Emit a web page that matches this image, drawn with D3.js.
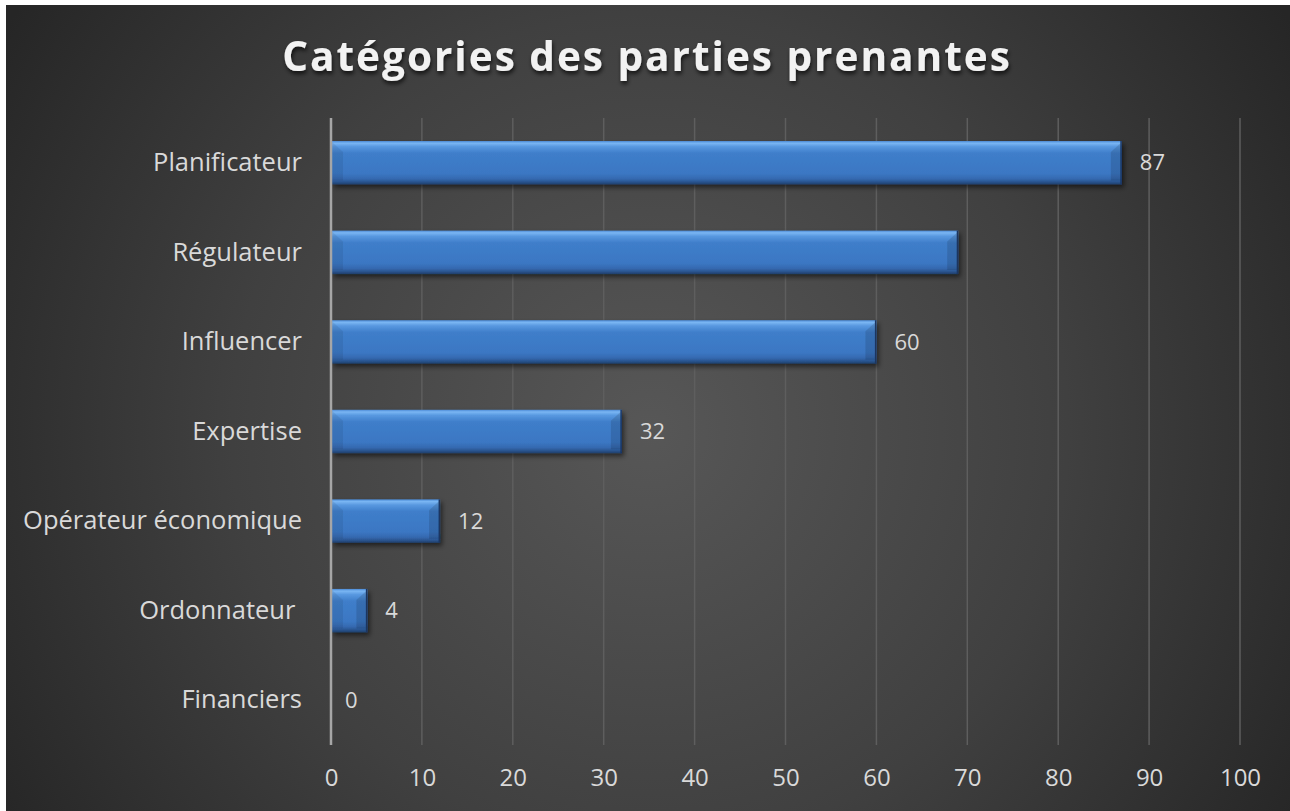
<!DOCTYPE html>
<html><head><meta charset="utf-8">
<script src="https://cdn.jsdelivr.net/npm/d3@7"></script>
<style>
html,body{margin:0;padding:0;background:#fff;}
svg{display:block;}
</style></head>
<body>
<script>
const categories = ["Planificateur","Régulateur","Influencer","Expertise","Opérateur économique","Ordonnateur ","Financiers"];
const values = [87, 69, 60, 32, 12, 4, 0];
const labels = ["87", null, "60", "32", "12", "4", "0"];
const ticks = [0,10,20,30,40,50,60,70,80,90,100];
const title = "Catégories des parties prenantes";

const W = 1290, H = 811;
const svg = d3.select("body").append("svg").attr("width", W).attr("height", H);
const defs = svg.append("defs");

const bg = defs.append("radialGradient").attr("id","bg").attr("gradientUnits","userSpaceOnUse")
  .attr("cx",650).attr("cy",430).attr("r",760);
bg.append("stop").attr("offset","0").attr("stop-color","#575757");
bg.append("stop").attr("offset","0.55").attr("stop-color","#404040");
bg.append("stop").attr("offset","1").attr("stop-color","#262626");

const bar = defs.append("linearGradient").attr("id","bar").attr("x1",0).attr("y1",0).attr("x2",0).attr("y2",1);
[["0","#4b8ad6"],["0.05","#7ab6f3"],["0.13","#5898e0"],["0.28","#3f7eca"],["0.75","#3b77c3"],["0.87","#3569b0"],["0.94","#2a5590"],["1","#1f3f6b"]]
  .forEach(([o,c])=>bar.append("stop").attr("offset",o).attr("stop-color",c));

const sh = defs.append("filter").attr("id","sh").attr("x","-10%").attr("y","-20%").attr("width","130%").attr("height","160%");
sh.append("feDropShadow").attr("dx",2).attr("dy",3).attr("stdDeviation",2.5).attr("flood-color","#000").attr("flood-opacity",0.55);

const tsh = defs.append("filter").attr("id","tsh").attr("x","-5%").attr("y","-30%").attr("width","110%").attr("height","160%");
tsh.append("feDropShadow").attr("dx",1).attr("dy",3).attr("stdDeviation",2).attr("flood-color","#000").attr("flood-opacity",0.7);

svg.append("rect").attr("x",6).attr("y",5).attr("width",W-6).attr("height",H-5).attr("fill","url(#bg)");

const x = d3.scaleLinear().domain([0,100]).range([331,1240]);
const y = d3.scaleBand().domain(categories).range([118,745]).paddingInner(0.515).paddingOuter(0.257);

// gridlines
svg.append("g").selectAll("line").data(ticks.filter(t=>t>0)).join("line")
  .attr("x1",d=>x(d)).attr("x2",d=>x(d)).attr("y1",118).attr("y2",745)
  .attr("stroke","#5e5e5e").attr("stroke-width",1.5);

// x tick labels
const xAxis = d3.axisBottom(x).tickValues(ticks).tickSize(0).tickPadding(0);
const gx = svg.append("g").attr("transform","translate(0,778)").call(xAxis);
gx.select(".domain").remove();
gx.selectAll("text").attr("fill","#d9d9d9").attr("font-family","'Open Sans', sans-serif").attr("font-size",24).attr("dy","0.35em");

// y labels
const yAxis = d3.axisLeft(y).tickSize(0).tickPadding(0);
const gy = svg.append("g").attr("transform","translate(302,0)").call(yAxis);
gy.select(".domain").remove();
gy.selectAll("text").attr("fill","#d9d9d9").attr("font-family","'Open Sans', sans-serif").attr("font-size",25.5).style("white-space","pre").attr("xml:space","preserve");

// bars
const bh = y.bandwidth();
const gb = svg.append("g");
categories.forEach((c,i)=>{
  const v = values[i];
  if (v <= 0) return;
  const x0 = x(0)+1, x1 = x(v), y0 = y(c), w = x1-x0;
  const g = gb.append("g").attr("filter","url(#sh)");
  g.append("rect").attr("x",x0).attr("y",y0).attr("width",w).attr("height",bh).attr("fill","url(#bar)");
  const b = Math.min(11, w/2.2);
  const yb = y0+bh-4;
  // side bevels: slight dark overlay below corner diagonals
  g.append("path").attr("d",`M${x0},${y0+1}L${x0+b},${y0+b}L${x0+b},${yb}L${x0},${yb}Z`).attr("fill","#000").attr("opacity",0.07);
  g.append("path").attr("d",`M${x1},${y0+1}L${x1-b},${y0+b}L${x1-b},${yb}L${x1},${yb}Z`).attr("fill","#000").attr("opacity",0.12);
  g.append("line").attr("x1",x1-0.75).attr("x2",x1-0.75).attr("y1",y0).attr("y2",y0+bh).attr("stroke","#1a3560").attr("stroke-width",1.5);
});

// axis line
svg.append("line").attr("x1",x(0)).attr("x2",x(0)).attr("y1",118).attr("y2",745).attr("stroke","#a6a6a6").attr("stroke-width",2.5);

// data labels
svg.append("g").selectAll("text").data(categories.map((c,i)=>({c,v:values[i],l:labels[i]})).filter(d=>d.l!==null)).join("text")
  .attr("x",d=>x(d.v)+ (d.v>0?18:14)).attr("y",d=>y(d.c)+bh/2).attr("dy","0.35em")
  .attr("fill","#d9d9d9").attr("font-family","'Open Sans', sans-serif").attr("font-size",22)
  .text(d=>d.l);

// title
svg.append("text").attr("x",647).attr("y",71).attr("text-anchor","middle")
  .attr("fill","#f2f2f2").attr("font-family","'Open Sans', sans-serif").attr("font-weight","bold")
  .attr("font-size",40.5).attr("letter-spacing",2).attr("filter","url(#tsh)").text(title);
</script>
</body></html>
